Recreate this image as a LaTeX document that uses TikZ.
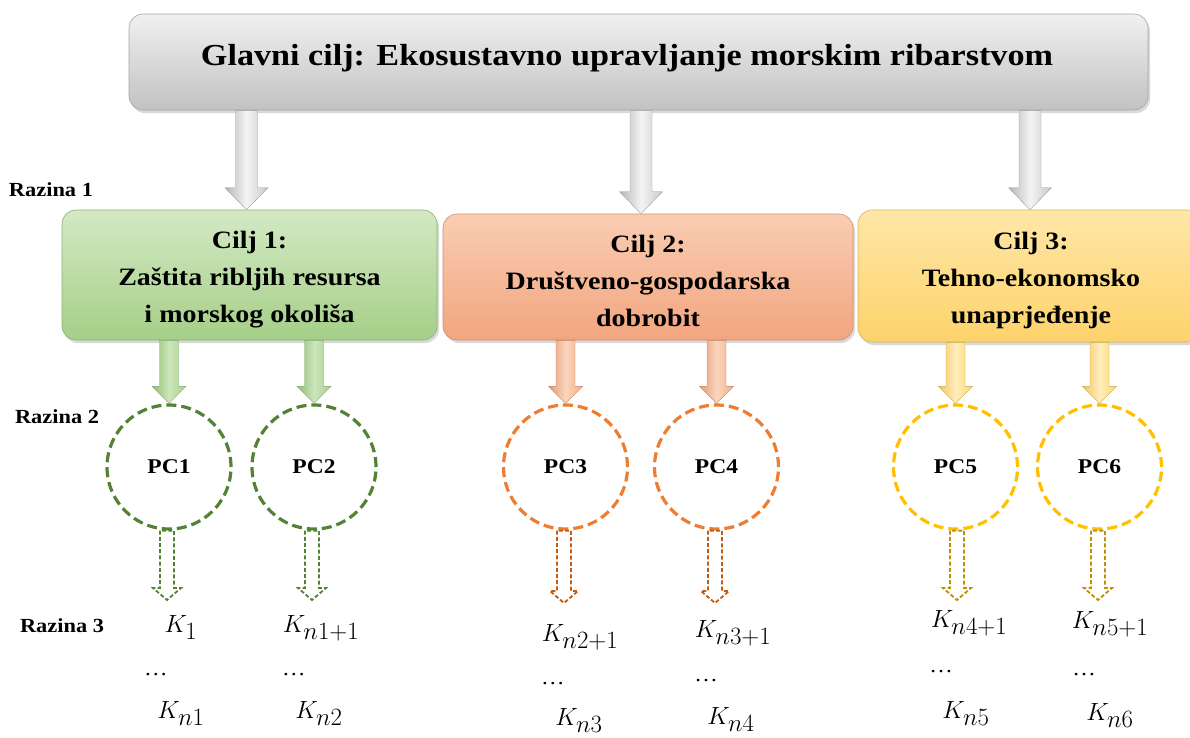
\documentclass[tikz,border=0pt]{standalone}
\usepackage{fontspec}
\setmainfont{Liberation Serif}[FakeStretch=1.12]
\usetikzlibrary{calc,shadows}
\DeclareMathSizes{29}{29}{23}{17}
\definecolor{gTop}{HTML}{D3E9C4}
\definecolor{gBot}{HTML}{A5CF88}
\definecolor{gLine}{HTML}{548235}
\definecolor{gArrL}{HTML}{8DBE6C}
\definecolor{gArrM}{HTML}{CDE5BC}
\definecolor{gArrR}{HTML}{A9D18E}
\definecolor{oTop}{HTML}{F9CDB3}
\definecolor{oBot}{HTML}{F2A57F}
\definecolor{oLine}{HTML}{ED7D31}
\definecolor{oDark}{HTML}{C55A11}
\definecolor{oArrL}{HTML}{E99A6E}
\definecolor{oArrM}{HTML}{FAD5BF}
\definecolor{oArrR}{HTML}{F4B183}
\definecolor{yTop}{HTML}{FFE7A8}
\definecolor{yBot}{HTML}{FDD26A}
\definecolor{yLine}{HTML}{FFC000}
\definecolor{yDark}{HTML}{BF9000}
\definecolor{yArrL}{HTML}{F2C55C}
\definecolor{yArrM}{HTML}{FFEDBE}
\definecolor{yArrR}{HTML}{FFD966}
\definecolor{kTop}{HTML}{F0F0F0}
\definecolor{kBot}{HTML}{C2C2C2}
\definecolor{kArrL}{HTML}{B5B5B5}
\definecolor{kArrM}{HTML}{F4F4F4}
\definecolor{kArrR}{HTML}{C8C8C8}
\begin{document}
\begin{tikzpicture}[x=1pt,y=-1pt,
  goalbox/.style n args={2}{rounded corners=14pt, top color=#1, bottom color=#2,
    draw=#2!85!black, line width=0.6pt,
    drop shadow={shadow xshift=2pt, shadow yshift=-3pt, opacity=0.3}},
  goaltext/.style={font=\bfseries\fontsize{25}{37}\selectfont, align=center, inner sep=0pt},
  lvl/.style={font=\bfseries\fontsize{20}{24}\selectfont, anchor=base, inner sep=0pt},
  pcnode/.style={circle, minimum size=124pt, inner sep=0pt, draw=#1, line width=3.2pt,
    dash pattern=on 10pt off 5pt, fill=white, font=\bfseries\fontsize{21}{24}\selectfont},
  knode/.style={font=\fontsize{29}{32}\selectfont, anchor=base, inner sep=0pt},
  dots/.style={font=\fontsize{21}{24}\selectfont, anchor=base, inner sep=0pt},
  blk/.style n args={3}{to path={let \p1=(\tikztostart), \p2=(\tikztotarget) in
    (\x1-#1,\y1) -- (\x1-#1,\y2+#3) -- (\x1-#2,\y2+#3) -- (\x1,\y2) --
    (\x1+#2,\y2+#3) -- (\x1+#1,\y2+#3) -- (\x1+#1,\y1) -- cycle}},
  bigarrow/.style={blk={11pt}{21.5pt}{22pt}, left color=kArrL, right color=kArrR,
    middle color=kArrM, draw=kBot!80!black, line width=0.4pt},
  colarrow/.style n args={4}{blk={9.5pt}{17pt}{17pt}, left color=#1, right color=#3,
    middle color=#2, draw=#4, line width=0.4pt},
  hol/.style={to path={let \p1=(\tikztostart), \p2=(\tikztotarget) in
    (\x1-7pt,\y1) -- (\x1-7pt,\y2+12pt) -- (\x1-14pt,\y2+12pt) -- (\x1,\y2) --
    (\x1+14pt,\y2+12pt) -- (\x1+7pt,\y2+12pt) -- (\x1+7pt,\y1) -- cycle},
    draw=#1, line width=1.8pt, dash pattern=on 4pt off 2.2pt, fill=white}
]
\useasboundingbox (0,0) rectangle (1190,737);
\clip (0,0) rectangle (1190,737);

% top goal
\node[goalbox={kTop}{kBot}, minimum width=1019pt, minimum height=96pt] (top) at (638.5,62) {};
\node[goaltext, font=\bfseries\fontsize{30.5}{38}\selectfont] (toptext) at (627,58)
  {Glavni cilj: Ekosustavno upravljanje morskim ribarstvom};

% level 1 boxes
\node[goalbox={gTop}{gBot}, minimum width=375pt, minimum height=130pt] (c1) at (249.5,275) {};
\node[goaltext] (c1t) at (249.5,280) {Cilj 1:\\Zaštita ribljih resursa\\i morskog okoliša};
\node[goalbox={oTop}{oBot}, minimum width=410pt, minimum height=126pt] (c2) at (648,277) {};
\node[goaltext] (c2t) at (648,281) {Cilj 2:\\Društveno-gospodarska\\dobrobit};
\node[goalbox={yTop}{yBot}, minimum width=344pt, minimum height=132pt] (c3) at (1030,276) {};
\node[goaltext] (c3t) at (1031,280) {Cilj 3:\\Tehno-ekonomsko\\unaprjeđenje};

% gray arrows
\path[bigarrow] ($(top.south -| c1.north)+(-3,0)$) to ($(c1.north)+(-3,0)$);
\path[bigarrow] ($(top.south -| c2.north)+(-7,0)$) to ($(c2.north)+(-7,0)$);
\path[bigarrow] (top.south -| c3.north) to (c3.north);

% level labels
\node[lvl] (r1) at (51,196) {Razina 1};
\node[lvl] (r2) at (57,423) {Razina 2};
\node[lvl] (r3) at (62,632) {Razina 3};

% circles
\node[pcnode=gLine] (pc1) at (169,467) {PC1};
\node[pcnode=gLine] (pc2) at (314,467) {PC2};
\node[pcnode=oLine] (pc3) at (565.5,467) {PC3};
\node[pcnode=oLine] (pc4) at (716.5,467) {PC4};
\node[pcnode=yLine] (pc5) at (955.5,467) {PC5};
\node[pcnode=yLine] (pc6) at (1099.5,467) {PC6};

% coloured arrows
\path[colarrow={gArrL}{gArrM}{gArrR}{gBot!80!black}] (c1.south -| pc1.north) to (pc1.north);
\path[colarrow={gArrL}{gArrM}{gArrR}{gBot!80!black}] (c1.south -| pc2.north) to (pc2.north);
\path[colarrow={oArrL}{oArrM}{oArrR}{oBot!80!black}] (c2.south -| pc3.north) to (pc3.north);
\path[colarrow={oArrL}{oArrM}{oArrR}{oBot!80!black}] (c2.south -| pc4.north) to (pc4.north);
\path[colarrow={yArrL}{yArrM}{yArrR}{yBot!80!black}] (c3.south -| pc5.north) to (pc5.north);
\path[colarrow={yArrL}{yArrM}{yArrR}{yBot!80!black}] (c3.south -| pc6.north) to (pc6.north);

% hollow dashed arrows
\coordinate (h1) at (167,600);
\coordinate (h2) at (312,600);
\coordinate (h3) at (564,603);
\coordinate (h4) at (715,603);
\coordinate (h5) at (957,600);
\coordinate (h6) at (1098,600);
\path[hol=gLine] ([xshift=-2pt]pc1.south) to (h1);
\path[hol=gLine] ([xshift=-2pt]pc2.south) to (h2);
\path[hol=oDark] ([xshift=-1.5pt]pc3.south) to (h3);
\path[hol=oDark] ([xshift=-1.5pt]pc4.south) to (h4);
\path[hol=yDark] ([xshift=1.5pt]pc5.south) to (h5);
\path[hol=yDark] ([xshift=-1.5pt]pc6.south) to (h6);

% level 3 labels
\node[knode] (k1a) at (181,632) {$K_{1}$};
\node[dots]  (k1b) at (156,675) {\ldots};
\node[knode] (k1c) at (181,718) {$K_{n1}$};
\node[knode] (k2a) at (321,632) {$K_{n1+1}$};
\node[dots]  (k2b) at (294,675) {\ldots};
\node[knode] (k2c) at (319,718) {$K_{n2}$};
\node[knode] (k3a) at (580,641) {$K_{n2+1}$};
\node[dots]  (k3b) at (553,684) {\ldots};
\node[knode] (k3c) at (579,725) {$K_{n3}$};
\node[knode] (k4a) at (733,637) {$K_{n3+1}$};
\node[dots]  (k4b) at (706,681) {\ldots};
\node[knode] (k4c) at (731,724) {$K_{n4}$};
\node[knode] (k5a) at (969,627) {$K_{n4+1}$};
\node[dots]  (k5b) at (941,672) {\ldots};
\node[knode] (k5c) at (966,718) {$K_{n5}$};
\node[knode] (k6a) at (1110,628) {$K_{n5+1}$};
\node[dots]  (k6b) at (1084,675) {\ldots};
\node[knode] (k6c) at (1110,720) {$K_{n6}$};
\end{tikzpicture}
\end{document}
